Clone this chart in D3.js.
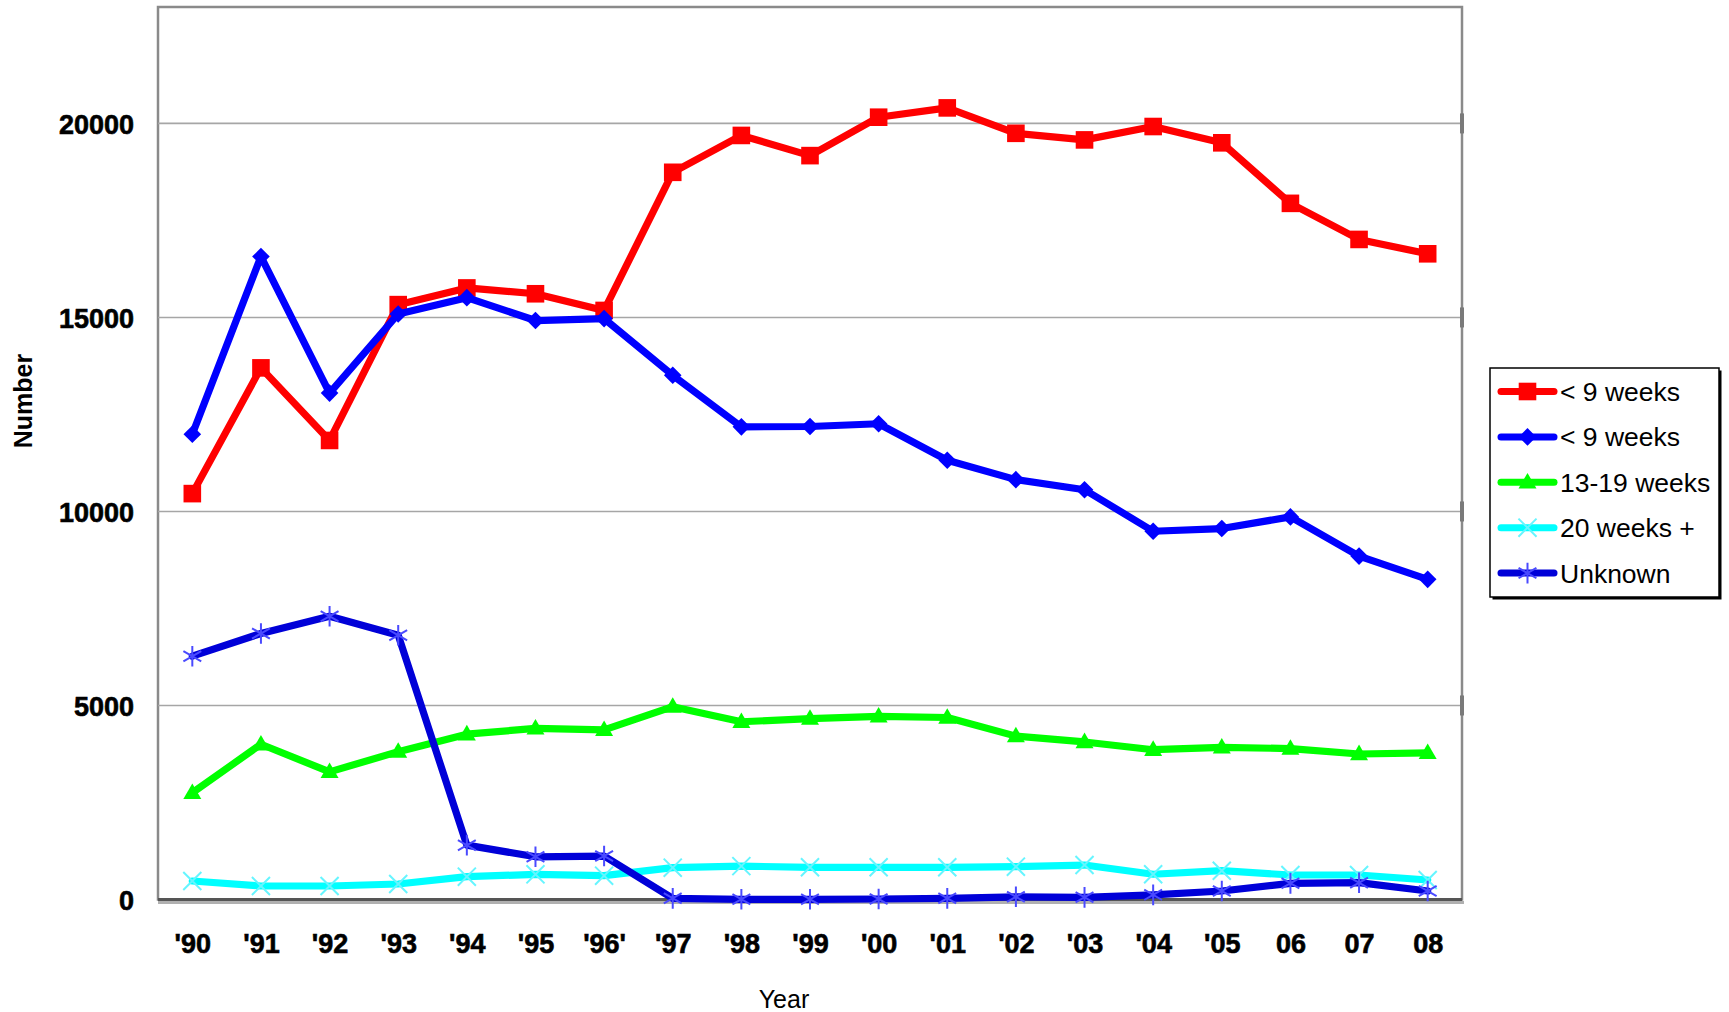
<!DOCTYPE html>
<html>
<head>
<meta charset="utf-8">
<script src="https://cdn.jsdelivr.net/npm/d3@7"></script>
<style>
  html, body { margin: 0; padding: 0; background: #fff; }
  svg { display: block; }
  text { font-family: "Liberation Sans", Arial, sans-serif; }
</style>
</head>
<body>
<svg id="chart" width="1729" height="1012"></svg>
<script>
// ---- data ----
const years = ["'90","'91","'92","'93","'94","'95","'96'","'97","'98","'99","'00","'01","'02","'03","'04","'05","06","07","08"];
const yTicks = [0, 5000, 10000, 15000, 20000];

const under9a   = [10460, 13700, 11830, 15330, 15760, 15610, 15180, 18740, 19690, 19170, 20160, 20400, 19745, 19575, 19920, 19500, 17940, 17010, 16640];
const under9b   = [11990, 16570, 13050, 15090, 15510, 14920, 14970, 13510, 12180, 12190, 12260, 11320, 10820, 10560, 9490, 9560, 9860, 8850, 8250];
const wk13to19  = [2750, 4000, 3290, 3810, 4260, 4410, 4370, 4970, 4580, 4660, 4720, 4690, 4210, 4060, 3860, 3920, 3890, 3750, 3780];
const wk20plus  = [476, 348, 348, 400, 588, 648, 614, 820, 860, 830, 830, 830, 846, 888, 650, 742, 631, 631, 502];
const unknown   = [6270, 6855, 7300, 6810, 1400, 1100, 1120, 30, 5, 5, 13, 30, 70, 56, 120, 219, 417, 433, 219];

const seriesNames = ["< 9 weeks", "< 9 weeks", "13-19 weeks", "20 weeks +", "Unknown"];

// ---- styling per series ----
const series = [
  { name: seriesNames[0], values: under9a,  color: "#ff0000", marker: "square" },
  { name: seriesNames[1], values: under9b,  color: "#0000ff", marker: "diamond" },
  { name: seriesNames[2], values: wk13to19, color: "#00ff00", marker: "triangle" },
  { name: seriesNames[3], values: wk20plus, color: "#00ffff", marker: "times", mcolor: "#66f5ff" },
  { name: seriesNames[4], values: unknown,  color: "#0000d8", marker: "asterisk", mcolor: "#4a4aff" }
];

const svg = d3.select("#chart");
const plot = { left: 158, right: 1462, top: 7, bottom: 899.5 };

const x = d3.scalePoint().domain(years).range([plot.left, plot.right]).padding(0.5);
const y = d3.scaleLinear().domain([0, 23000]).range([plot.bottom, plot.top]);

// plot border
svg.append("rect")
  .attr("x", plot.left).attr("y", plot.top)
  .attr("width", plot.right - plot.left).attr("height", plot.bottom - plot.top)
  .attr("fill", "#fff").attr("stroke", "#8a8a8a").attr("stroke-width", 2.5);

// gridlines
svg.append("g").selectAll("line")
  .data(yTicks.filter(d => d > 0))
  .join("line")
  .attr("x1", plot.left).attr("x2", plot.right)
  .attr("y1", d => y(d)).attr("y2", d => y(d))
  .attr("stroke", "#a6a6a6").attr("stroke-width", 1.6);

// small wall tick segments on right border
svg.append("g").selectAll("line")
  .data(yTicks.filter(d => d > 0))
  .join("line")
  .attr("x1", plot.right).attr("x2", plot.right)
  .attr("y1", d => y(d) - 10).attr("y2", d => y(d) + 10)
  .attr("stroke", "#7a7a7a").attr("stroke-width", 4);

// bottom axis (dark with shadow)
svg.append("line")
  .attr("x1", plot.left).attr("x2", plot.right + 2)
  .attr("y1", plot.bottom + 3).attr("y2", plot.bottom + 3)
  .attr("stroke", "#b0b0b0").attr("stroke-width", 3);
svg.append("line")
  .attr("x1", plot.left).attr("x2", plot.right)
  .attr("y1", plot.bottom).attr("y2", plot.bottom)
  .attr("stroke", "#555").attr("stroke-width", 3);

// y axis labels
const yAxis = d3.axisLeft(y).tickValues(yTicks).tickSize(0).tickPadding(0).tickFormat(d3.format("d"));
const yg = svg.append("g").attr("transform", `translate(134,0)`).call(yAxis);
yg.select(".domain").remove();
yg.selectAll("text")
  .attr("font-family", "'Liberation Sans', Arial, sans-serif")
  .attr("font-size", 27).attr("font-weight", "bold").attr("fill", "#000")
  .attr("stroke", "#000").attr("stroke-width", 0.6)
  .attr("dy", "0.36em");

// x axis labels
const xAxis = d3.axisBottom(x).tickSize(0).tickPadding(0);
const xg = svg.append("g").attr("transform", `translate(0,${953})`).call(xAxis);
xg.select(".domain").remove();
xg.selectAll("text")
  .attr("font-family", "'Liberation Sans', Arial, sans-serif")
  .attr("font-size", 27).attr("font-weight", "bold").attr("fill", "#000")
  .attr("stroke", "#000").attr("stroke-width", 0.6)
  .attr("dy", 0).attr("y", 0);

// axis titles
svg.append("text")
  .attr("x", 784).attr("y", 1008)
  .attr("text-anchor", "middle")
  .attr("font-size", 25).attr("fill", "#000")
  .text("Year");
svg.append("text")
  .attr("transform", "translate(32,401) rotate(-90)")
  .attr("text-anchor", "middle")
  .attr("font-size", 25).attr("font-weight", "bold").attr("fill", "#000")
  .text("Number");

// marker generator
function markerPath(type) {
  switch (type) {
    case "square":   return d3.symbol(d3.symbolSquare, 310)();
    case "diamond":  return d3.symbol(d3.symbolSquare, 155)();
    case "triangle": return d3.symbol(d3.symbolTriangle, 140)();
    case "times":    return d3.symbol(d3.symbolTimes, 215)();
    case "asterisk": return d3.symbol(d3.symbolAsterisk, 300)();
  }
}
function drawMarker(g, s, cx, cy) {
  const p = g.append("path")
    .attr("d", markerPath(s.marker));
  let tf = `translate(${cx},${cy})`;
  if (s.marker === "diamond") tf += " rotate(45)";
  if (s.marker === "triangle") tf += " translate(0,1)";
  p.attr("transform", tf);
  if (s.marker === "times" || s.marker === "asterisk") {
    p.attr("fill", "none").attr("stroke", s.mcolor).attr("stroke-width", 2);
  } else {
    p.attr("fill", s.color);
  }
}

const line = d3.line().x((d, i) => x(years[i])).y(d => y(d));

series.forEach(s => {
  const g = svg.append("g");
  g.append("path")
    .datum(s.values)
    .attr("d", line)
    .attr("fill", "none")
    .attr("stroke", s.color)
    .attr("stroke-width", 7.2)
    .attr("stroke-linejoin", "round")
    .attr("stroke-linecap", "round");
  s.values.forEach((v, i) => drawMarker(g, s, x(years[i]), y(v)));
});

// legend
const lg = svg.append("g");
const lb = { x: 1490, y: 368, w: 229, h: 229 };
lg.append("rect")
  .attr("x", lb.x + 2.5).attr("y", lb.y + 2.5).attr("width", lb.w).attr("height", lb.h)
  .attr("fill", "#000");
lg.append("rect")
  .attr("x", lb.x).attr("y", lb.y).attr("width", lb.w).attr("height", lb.h)
  .attr("fill", "#fff").attr("stroke", "#000").attr("stroke-width", 1.5);
series.forEach((s, i) => {
  const cy = 391.5 + i * 45.4;
  lg.append("line")
    .attr("x1", 1501).attr("x2", 1554).attr("y1", cy).attr("y2", cy)
    .attr("stroke", s.color).attr("stroke-width", 7).attr("stroke-linecap", "round");
  drawMarker(lg, s, 1527.5, cy);
  lg.append("text")
    .attr("x", 1560).attr("y", cy).attr("dy", "0.36em")
    .attr("font-size", 26.5).attr("fill", "#000")
    .text(s.name);
});
</script>
</body>
</html>
